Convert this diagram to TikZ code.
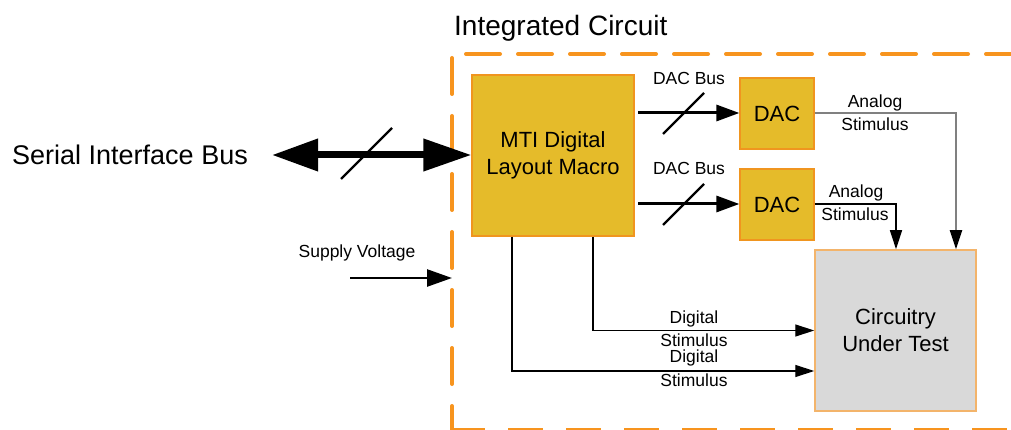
\documentclass[tikz,border=0pt]{standalone}
\usepackage{fontspec}
\setmainfont{Liberation Sans}
\usetikzlibrary{arrows.meta,calc}
\definecolor{gold}{HTML}{E5BB2A}
\definecolor{goldedge}{HTML}{F0951F}
\definecolor{icorange}{HTML}{F7941E}
\definecolor{cutfill}{HTML}{D9D9D9}
\definecolor{cutedge}{HTML}{F3B46B}
\definecolor{analoggray}{HTML}{808080}
\tikzset{
  goldbox/.style={draw=goldedge, fill=gold, line width=1.2pt, align=center, inner sep=0pt},
  cutbox/.style={draw=cutedge, fill=cutfill, line width=1.5pt, align=center, inner sep=0pt},
  lbl/.style={font=\fontsize{17.5}{21}\selectfont, inner sep=0pt},
  bigtxt/.style={font=\fontsize{22}{26.5}\selectfont},
  icdash/.style={draw=icorange, line width=4pt, line cap=round},
  thinarrow/.style={line width=1.3pt, -{Triangle[length=19pt,width=12pt,color=black,fill=black]}},
  busarrow/.style={line width=3pt, -{Triangle[length=23pt,width=16pt]}},
  slash/.style={line width=2.2pt},
}
\begin{document}
\begin{tikzpicture}[x=1pt,y=-1pt]
\useasboundingbox (0,0) rectangle (1011,430);
% integrated circuit border
\draw[icdash, dash pattern=on 34pt off 18pt] (466,54) -- (1030,54);
\draw[icdash, dash pattern=on 36pt off 22pt] (452,58) -- (452,440);
\draw[icdash, dash pattern=on 35pt off 23pt, line cap=butt] (450,430) -- (1030,430);
\node[anchor=base west, font=\fontsize{28}{32}\selectfont, inner sep=0pt] (ictitle) at (454,36) {Integrated Circuit};

% blocks
\node[goldbox, minimum width=162pt, minimum height=161pt, bigtxt] (mti) at (553,155.5) {MTI Digital\\Layout Macro};
\node[goldbox, minimum width=74pt, minimum height=71pt, font=\fontsize{22}{26}\selectfont] (dac1) at (777,113.5) {DAC};
\node[goldbox, minimum width=74pt, minimum height=71pt, font=\fontsize{22}{26}\selectfont] (dac2) at (777,204.5) {DAC};
\node[cutbox, minimum width=161pt, minimum height=161pt, font=\fontsize{22}{27}\selectfont] (cut) at (895.5,330.5) {Circuitry\\Under Test};

% serial interface bus
\node[anchor=west, font=\fontsize{27}{32}\selectfont, inner sep=0pt] (serial) at (12,155) {Serial Interface Bus};
\coordinate (serL) at (272,155);
\draw[line width=7pt, {Triangle[length=46pt,width=31pt]}-{Triangle[length=48pt,width=31pt]}] (serL) -- (mti.west |- serL);
\draw[slash] (341,179) -- (392,128);

% supply voltage
\node[lbl] (supply) at (357,253) {Supply Voltage};
\coordinate (supS) at (350,278);
\coordinate (supE) at (452,278);
\draw[line width=2.5pt, -{Triangle[length=25pt,width=17pt]}] (supS) -- (supE);

% DAC buses
\coordinate (bus1) at (638,113);
\coordinate (bus2) at (638,204);
\draw[busarrow] (bus1) -- (dac1.west |- bus1);
\draw[busarrow] (bus2) -- (dac2.west |- bus2);
\draw[slash] (663,134) -- (704,93);
\draw[slash] (663,225) -- (704,184);
\node[lbl] (dacbus1) at (689,78) {DAC Bus};
\node[lbl] (dacbus2) at (689,168) {DAC Bus};

% analog stimulus
\draw[thinarrow, draw=analoggray, line width=2pt] (dac1.east |- bus1) -| ($(cut.north)+(60.5,0)$);
\draw[thinarrow] (dac2.east |- bus2) -| ($(cut.north)+(0.5,0)$);
\node[lbl] (an1a) at (875,103) {Analog};
\node[lbl] (an1b) at (875,124) {Stimulus};
\node[lbl] (an2a) at (856,193) {Analog};
\node[lbl] (an2b) at (855,214) {Stimulus};

% digital stimulus
\draw[thinarrow] ($(mti.south)+(40,0)$) |- (cut.west);
\draw[thinarrow] ($(mti.south)+(-41,0)$) |- ($(cut.west)+(0,40.5)$);
\node[lbl] (dg1a) at (694,319) {Digital};
\node[lbl] (dg1b) at (694,340) {Stimulus};
\node[lbl] (dg2a) at (694,358) {Digital};
\node[lbl] (dg2b) at (694,380) {Stimulus};
\end{tikzpicture}
\end{document}
